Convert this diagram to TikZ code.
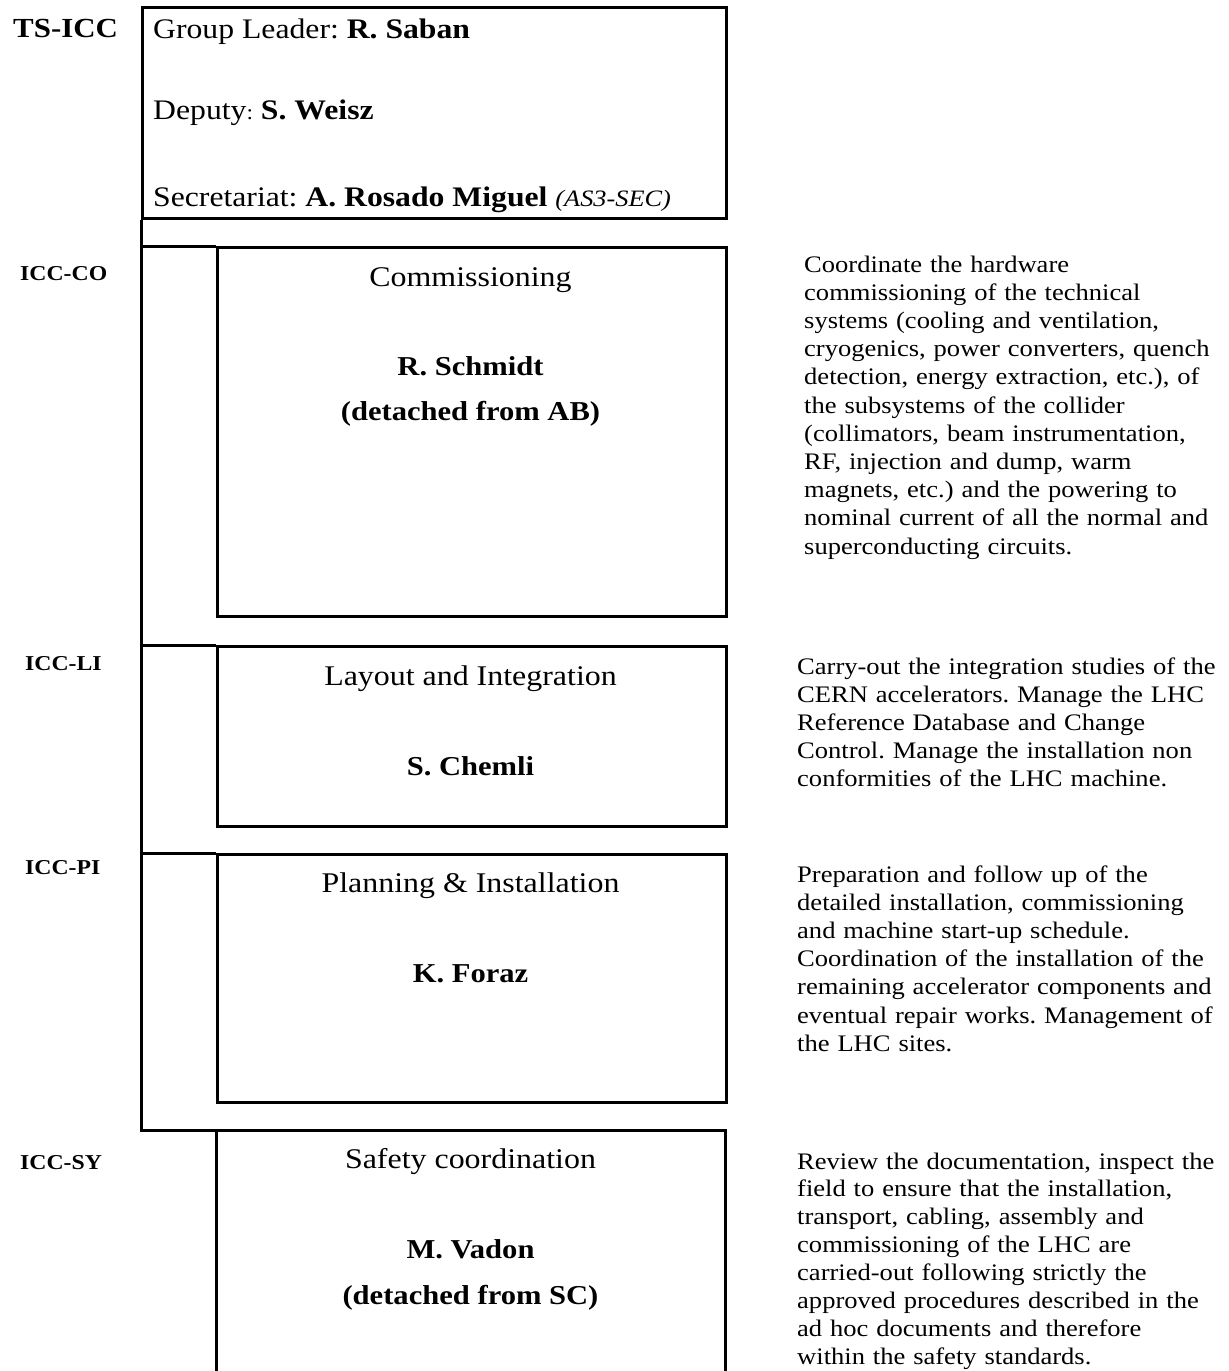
\documentclass[tikz,border=0pt]{standalone}
\usepackage{fontspec}
\setmainfont{Liberation Serif}[FakeStretch=1.12]
\frenchspacing
\begin{document}
\begin{tikzpicture}[x=1pt,y=-1pt,
  frame/.style={draw, line width=3pt, inner sep=0pt, anchor=north west, minimum width=509pt},
  line/.style={line width=3pt},
  tag/.style={anchor=base west, inner sep=0pt, font=\fontsize{21.2}{24}\selectfont\bfseries},
  title/.style={anchor=base, inner sep=0pt, font=\fontsize{28.5}{32}\selectfont},
  who/.style={anchor=base, inner sep=0pt, font=\fontsize{27.3}{31}\selectfont\bfseries},
  headtxt/.style={anchor=base west, inner sep=0pt, font=\fontsize{28.3}{32}\selectfont},
  desc/.style={anchor=base west, inner sep=0pt, align=left, text width=440pt, font=\fontsize{23.7}{28.2}\selectfont}]
\useasboundingbox (0,0) rectangle (1229,1371);

% header box
\node[frame, minimum width=584pt, minimum height=211pt] (head) at (141,6) {};
\node[anchor=base west, inner sep=0pt, font=\fontsize{27.6}{31}\selectfont\bfseries] (ts) at (13,37) {TS-ICC};
\node[headtxt] (gl) at (153,38) {Group Leader: \textbf{R. Saban}};
\node[headtxt] (dep) at (153,119) {Deputy{\fontsize{21}{24}\selectfont:} \textbf{S. Weisz}};
\node[headtxt] (sec) at (153,206) {Secretariat: \textbf{A. Rosado Miguel} {\fontsize{23.5}{26}\selectfont\itshape (AS3-SEC)}};

% unit boxes
\node[frame, minimum height=369pt] (cobox) at (216,246) {};
\node[frame, minimum height=180pt] (libox) at (216,645) {};
\node[frame, minimum height=248pt] (pibox) at (216,853) {};
\node[inner sep=0pt, anchor=north west, minimum width=509pt, minimum height=245pt] (sybox) at (216,1130) {};
\draw[line] (sybox.south west) -- (sybox.north west) -- (sybox.north east) -- (sybox.south east);

% spine and branches
\draw[line] (head.south west) -- (head.west |- sybox.north) -- (sybox.north west);
\draw[line] (head.west |- cobox.north) -- (cobox.north west);
\draw[line] (head.west |- libox.north) -- (libox.north west);
\draw[line] (head.west |- pibox.north) -- (pibox.north west);

% CO
\node[tag] (tco) at (20,280) {ICC-CO};
\node[title] (nco) at (470.5,286) {Commissioning};
\node[who] (wco) at (470.5,375) {R. Schmidt};
\node[who] (wco2) at (470.5,420) {(detached from AB)};
\node[desc] (dco) at (804,272) {Coordinate the hardware\\commissioning of the technical\\systems (cooling and ventilation,\\cryogenics, power converters, quench\\detection, energy extraction, etc.), of\\the subsystems of the collider\\(collimators, beam instrumentation,\\RF, injection and dump, warm\\magnets, etc.) and the powering to\\nominal current of all the normal and\\superconducting circuits.};

% LI
\node[tag] (tli) at (25,670) {ICC-LI};
\node[title] (nli) at (470.5,685) {Layout and Integration};
\node[who] (wli) at (470.5,775) {S. Chemli};
\node[desc] (dli) at (797,674) {Carry-out the integration studies of the\\CERN accelerators. Manage the LHC\\Reference Database and Change\\Control. Manage the installation non\\conformities of the LHC machine.};

% PI
\node[tag] (tpi) at (25,874) {ICC-PI};
\node[title] (npi) at (470.5,892) {Planning \& Installation};
\node[who] (wpi) at (470.5,982) {K. Foraz};
\node[desc] (dpi) at (797,882) {Preparation and follow up of the\\detailed installation, commissioning\\and machine start-up schedule.\\Coordination of the installation of the\\remaining accelerator components and\\eventual repair works. Management of\\the LHC sites.};

% SY
\node[tag] (tsy) at (20,1169) {ICC-SY};
\node[title] (nsy) at (470.5,1168) {Safety coordination};
\node[who] (wsy) at (470.5,1258) {M. Vadon};
\node[who] (wsy2) at (470.5,1304) {(detached from SC)};
\node[desc, font=\fontsize{23.7}{27.9}\selectfont] (dsy) at (797,1169) {Review the documentation, inspect the\\field to ensure that the installation,\\transport, cabling, assembly and\\commissioning of the LHC are\\carried-out following strictly the\\approved procedures described in the\\ad hoc documents and therefore\\within the safety standards.};
\end{tikzpicture}
\end{document}
